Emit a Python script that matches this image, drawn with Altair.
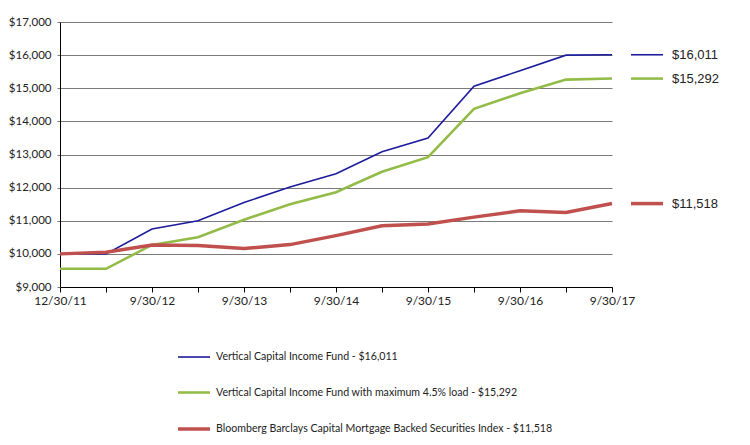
import json
import altair as alt
import pandas as pd

dates = ["12/30/11", "3/31/12", "9/30/12", "3/31/13", "9/30/13", "3/31/14", "9/30/14",
         "3/31/15", "9/30/15", "3/31/16", "9/30/16", "3/31/17", "9/30/17"]
tick_labels = ["12/30/11", "", "9/30/12", "", "9/30/13", "", "9/30/14", "", "9/30/15", "",
               "9/30/16", "", "9/30/17"]
y_ticks = [9000, 10000, 11000, 12000, 13000, 14000, 15000, 16000, 17000]

fund = [10000, 10000, 10750, 11000, 11550, 12020, 12420, 13080, 13500, 15060, 15530, 16000, 16011]
fund_load = [9550, 9550, 10270, 10500, 11030, 11500, 11860, 12480, 12920, 14380, 14850, 15260, 15292]
mbs_index = [10000, 10050, 10270, 10250, 10160, 10280, 10550, 10850, 10900, 11110, 11300, 11250, 11518]

series = [
    "Vertical Capital Income Fund - $16,011",
    "Vertical Capital Income Fund with maximum 4.5% load - $15,292",
    "Bloomberg Barclays Capital Mortgage Backed Securities Index - $11,518",
]
end_labels = ["$16,011", "$15,292", "$11,518"]
colors = ["#1c1c9c", "#92bb48", "#c0504d"]
widths = [1.6, 3.5, 3.5]

rows = []
for s_i, (name, vals) in enumerate(zip(series, [fund, fund_load, mbs_index])):
    for i, v in enumerate(vals):
        rows.append({"idx": i, "date": dates[i], "value": v, "series": name, "order": s_i})
df = pd.DataFrame(rows)

end_df = pd.DataFrame({
    "idx": [len(dates) - 1] * 3,
    "value": [fund[-1], fund_load[-1], mbs_index[-1]],
    "series": series,
    "label": end_labels,
})

label_expr = json.dumps(tick_labels) + "[datum.value]"

x_scale = alt.Scale(domain=[0, len(dates) - 1], nice=False, zero=False)
y_scale = alt.Scale(domain=[9000, 17000], nice=False, zero=False)

x_axis = alt.Axis(
    values=list(range(len(dates))), labelExpr=label_expr, title=None, grid=False,
    labelOverlap=False, labelFlush=False, labelBound=False, tickSize=5,
    tickColor="#000000", domainColor="#000000",
    labelFont="Lato", labelFontSize=12, labelColor="#222222", labelPadding=3,
)
y_axis = alt.Axis(
    values=y_ticks, format="$,.0f", title=None,
    labelOverlap=False, labelFlush=False, labelBound=False,
    grid=True, gridColor="#7a7a7a", gridWidth=1, tickSize=3, tickColor="#7a7a7a",
    domainColor="#000000", labelFont="Lato", labelFontSize=11.5, labelColor="#222222",
    labelPadding=6,
)

x_enc = alt.X("idx:Q", scale=x_scale, axis=x_axis)
y_enc = alt.Y("value:Q", scale=y_scale, axis=y_axis)

legend = alt.Legend(
    orient="none", legendX=116, legendY=318, direction="vertical", title=None,
    symbolType="stroke", symbolSize=1024, labelFont="Lato", labelFontSize=10.6,
    labelColor="#222222", labelOffset=4, rowPadding=12, labelLimit=500,
)

color_scale = alt.Scale(domain=series, range=colors)
width_scale = alt.Scale(domain=series, range=widths)

lines = alt.Chart(df).mark_line().encode(
    x=x_enc,
    y=y_enc,
    color=alt.Color("series:N", scale=color_scale, legend=legend),
    strokeWidth=alt.StrokeWidth("series:N", scale=width_scale, legend=legend),
    order="order:Q",
)

end_rules = alt.Chart(end_df).mark_rule(xOffset=19, x2Offset=51).encode(
    x=x_enc,
    x2="idx:Q",
    y=y_enc,
    color=alt.Color("series:N", scale=color_scale, legend=legend),
    strokeWidth=alt.StrokeWidth("series:N", scale=width_scale, legend=legend),
)

end_text = alt.Chart(end_df).mark_text(
    align="left", baseline="middle", dx=60, font="Liberation Sans", fontSize=13, color="#222222"
).encode(
    x=x_enc,
    y=y_enc,
    text="label:N",
)

chart = alt.layer(lines, end_rules, end_text).properties(
    width=552, height=265,
    autosize=alt.AutoSizeParams(type="none"),
    padding={"left": 52, "top": 14, "right": 120, "bottom": 150},
    background="white",
).configure_view(stroke=None)

chart.save("out.html", embed_options={"renderer": "svg", "actions": False})
